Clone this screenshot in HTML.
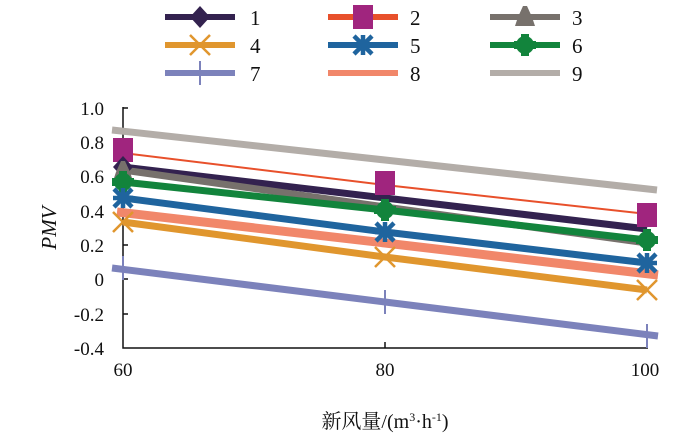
<!DOCTYPE html><html><head><style>body{margin:0;background:#fff}svg{display:block}text{font-family:"Liberation Serif","Noto Serif CJK SC",serif;fill:#111}</style></head><body>
<svg width="700" height="436" viewBox="0 0 700 436">
<defs>
<g id="dia"><path d="M0,-11 L10,0 L0,11 L-10,0Z" fill="#33224f"/></g>
<g id="sq"><rect x="-10" y="-12" width="20" height="24" fill="#a0257e"/></g>
<g id="tri"><path d="M-2,-11 L2,-11 L7,0 L10,9 L-10,9 L-7,0Z" fill="#77716c"/></g>
<g id="x4"><path d="M-10,-10L10,10M-10,10L10,-10" stroke="#e0962e" stroke-width="2.5"/></g>
<g id="st5"><path d="M-9,-9L9,9M-9,9L9,-9M0,-10V10M-10,0H10" stroke="#1f649e" stroke-width="4.5"/></g>
<g id="ci6"><path d="M-4,-11H4V-4H11V4H4V11H-4V4H-11V-4H-4Z" fill="#12843c"/><circle r="9" fill="#12843c"/></g>
<g id="pl7"><path d="M0,-12V12M-8,0H8" stroke="#7c82bb" stroke-width="2"/></g>
</defs>
<g stroke-width="6">
<line x1="165" y1="17" x2="235" y2="17" stroke="#33224f"/><use href="#dia" x="200" y="17"/>
<line x1="328" y1="17" x2="398" y2="17" stroke="#e8502b"/><use href="#sq" x="363" y="17"/>
<line x1="490" y1="17" x2="560" y2="17" stroke="#77716c"/><use href="#tri" x="525" y="17"/>
<line x1="165" y1="45" x2="235" y2="45" stroke="#e0962e"/><use href="#x4" x="200" y="45"/>
<line x1="328" y1="45" x2="398" y2="45" stroke="#1f649e"/><use href="#st5" x="363" y="45"/>
<line x1="490" y1="45" x2="560" y2="45" stroke="#12843c"/><use href="#ci6" x="525" y="45"/>
<line x1="165" y1="73" x2="235" y2="73" stroke="#7c82bb"/><path d="M200,61V85" stroke="#7c82bb" stroke-width="2"/>
<line x1="328" y1="73" x2="398" y2="73" stroke="#f1876a"/>
<line x1="490" y1="73" x2="560" y2="73" stroke="#b3ada8"/>
</g>
<g font-size="21"><text x="250" y="25">1</text><text x="410" y="25">2</text><text x="572" y="25">3</text>
<text x="250" y="53">4</text><text x="410" y="53">5</text><text x="572" y="53">6</text>
<text x="250" y="81">7</text><text x="410" y="81">8</text><text x="572" y="81">9</text></g>
<g stroke="#111" stroke-width="1.5" fill="none">
<path d="M123,107V348H648"/>
<path d="M123,108h5M123,142h5M123,176h5M123,211h5M123,245h5M123,279h5M123,314h5"/>
<path d="M385,348v-6M647,348v-6"/>
</g>
<g font-size="19" text-anchor="end">
<text x="104" y="115">1.0</text><text x="104" y="149">0.8</text><text x="104" y="183">0.6</text><text x="104" y="218">0.4</text><text x="104" y="252">0.2</text><text x="104" y="286">0</text><text x="104" y="321">-0.2</text><text x="104" y="355">-0.4</text></g>
<g font-size="19" text-anchor="middle"><text x="123" y="376">60</text><text x="385" y="376">80</text><text x="645" y="376">100</text></g>
<text x="56" y="228" font-size="21" font-style="italic" transform="rotate(-90 56 228)" text-anchor="middle">PMV</text>
<text x="385" y="428" font-size="20" text-anchor="middle">新风量/(m<tspan font-size="12" dy="-7">3</tspan><tspan dy="7">·h</tspan><tspan font-size="12" dy="-7">-1</tspan><tspan dy="7">)</tspan></text>
<g fill="none" stroke-width="7">
<polyline points="112,130 385,160 657,190" stroke="#b3ada8"/>
<polyline points="123,153 385,185 647,214" stroke="#e8502b" stroke-width="2"/>
<polyline points="123,167 385,198 647,229" stroke="#33224f"/>
<polyline points="123,170 385,207 647,243" stroke="#77716c"/>
<polyline points="123,182 385,210 647,240" stroke="#12843c"/>
<polyline points="123,198 385,232 647,263" stroke="#1f649e"/>
<polyline points="117,212 385,243 658,275" stroke="#f1876a" stroke-width="9"/>
<polyline points="123,222 385,257 647,290" stroke="#e0962e"/>
<polyline points="112,268 385,302 658,336" stroke="#7c82bb"/>
</g>
<use href="#sq" x="123" y="150"/><use href="#sq" x="385" y="183"/><use href="#sq" x="647" y="215"/>
<use href="#dia" x="123" y="167"/><use href="#tri" x="123" y="172"/>
<use href="#ci6" x="123" y="182"/><use href="#ci6" x="385" y="210"/><use href="#ci6" x="647" y="240"/>
<use href="#st5" x="123" y="198"/><use href="#st5" x="385" y="232"/><use href="#st5" x="647" y="263"/>
<use href="#x4" x="123" y="222"/><use href="#x4" x="385" y="257"/><use href="#x4" x="647" y="290"/>
<use href="#pl7" x="123" y="268"/><use href="#pl7" x="385" y="302"/><use href="#pl7" x="647" y="336"/>
</svg></body></html>
